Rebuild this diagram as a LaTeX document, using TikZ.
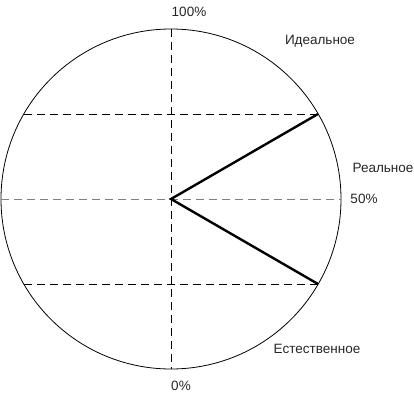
\documentclass[tikz,border=0pt]{standalone}
\usepackage{fontspec}
\setmainfont{Liberation Sans}

\begin{document}
\begin{tikzpicture}[x=1pt, y=-1pt,
	lbl/.style={font=\fontsize{13.5}{15}\selectfont, inner sep=0pt, text=black!85},
	dsh/.style={dash pattern=on 8pt off 5pt, line width=0.8pt}]
	\useasboundingbox (0,0) rectangle (414,395);
	\coordinate (O) at (171,199);
	\coordinate (top) at (171,29);
	\coordinate (bot) at (171,369);
	\coordinate (lft) at (1,199);
	\coordinate (rgt) at (341,199);
	\coordinate (hiL) at (24,114);
	\coordinate (hiR) at (318,114);
	\coordinate (loL) at (24,284);
	\coordinate (loR) at (318,284);
	\draw [line width=0.8pt] (O) circle (170pt);
	\draw [dsh] (top) -- (bot);
	\draw [dsh, color=gray] (lft) -- (rgt);
	\draw [dsh] (hiL) -- (hiR);
	\draw [dsh] (loL) -- (loR);
	\draw [line width=2.4pt] (hiR) -- (O) -- (loR);
	\node [lbl] (p100) at (189,12) {100\%};
	\node [lbl] (p0) at (181,386) {0\%};
	\node [lbl] (p50) at (364,199) {50\%};
	\node [lbl] (ideal) at (320,41) {Идеальное};
	\node [lbl] (real) at (383,168) {Реальное};
	\node [lbl] (nat) at (317,349) {Естественное};
\end{tikzpicture}
\end{document}
